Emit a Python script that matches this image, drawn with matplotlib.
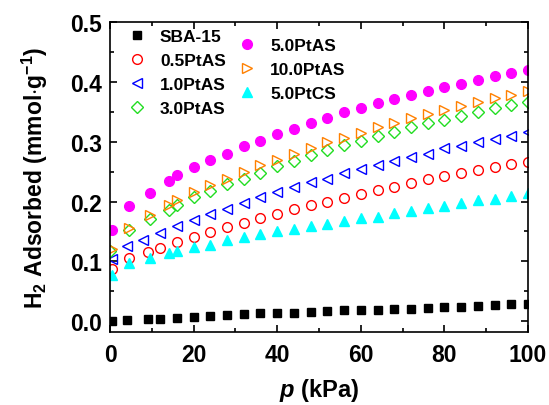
import matplotlib
matplotlib.use("Agg")
import matplotlib.pyplot as plt
from matplotlib.ticker import MultipleLocator

plt.rcParams['font.family'] = ['Liberation Sans', 'DejaVu Sans']
plt.rcParams['font.weight'] = 'bold'
plt.rcParams['mathtext.fontset'] = 'custom'
plt.rcParams['mathtext.rm'] = 'Liberation Sans:bold'
plt.rcParams['mathtext.it'] = 'Liberation Sans:italic:bold'
plt.rcParams['mathtext.bf'] = 'Liberation Sans:bold'

# pressure (kPa) for each series
p_sba = [0.5, 4, 9, 12, 16, 20, 24, 28, 32, 36, 40, 44, 48, 52, 56, 60, 64, 68, 72, 76, 80, 84, 88, 92, 96, 100]
p_05 = [0.5, 4.5, 9, 12, 16, 20, 24, 28, 32, 36, 40, 44, 48, 52, 56, 60, 64, 68, 72, 76, 80, 84, 88, 92, 96, 100]
p_10 = [0.5, 4, 8, 12, 16, 20, 24, 28, 32, 36, 40, 44, 48, 52, 56, 60, 64, 68, 72, 76, 80, 84, 88, 92, 96, 100]
p_30 = [0, 4.5, 9.5, 14, 16, 20, 24, 28, 32, 36, 40, 44, 48, 52, 56, 60, 64, 68, 72, 76, 80, 84, 88, 92, 96, 100]
p_50 = [0.5, 4.5, 9.5, 14, 16, 20, 24, 28, 32, 36, 40, 44, 48, 52, 56, 60, 64, 68, 72, 76, 80, 84, 88, 92, 96, 100]
p_100 = [0.5, 4.5, 9.5, 14, 16, 20, 24, 28, 32, 36, 40, 44, 48, 52, 56, 60, 64, 68, 72, 76, 80, 84, 88, 92, 96, 100]
p_cs = [0.5, 4.5, 9.5, 14, 16, 20, 24, 28, 32, 36, 40, 44, 48, 52, 56, 60, 64, 68, 72, 76, 80, 84, 88, 92, 96, 100]

# H2 adsorbed (mmol/g)
h_sba = [0.001, 0.002, 0.003, 0.0045, 0.0055, 0.007, 0.009, 0.0105, 0.012, 0.013, 0.013, 0.0145, 0.016,
         0.017, 0.018, 0.019, 0.0195, 0.020, 0.021, 0.022, 0.023, 0.0245, 0.0255, 0.027, 0.028, 0.029]
h_05 = [0.088, 0.105, 0.115, 0.123, 0.132, 0.140, 0.149, 0.157, 0.164, 0.172, 0.180, 0.187, 0.194,
        0.200, 0.206, 0.213, 0.219, 0.225, 0.231, 0.237, 0.242, 0.247, 0.253, 0.257, 0.262, 0.266]
h_10 = [0.104, 0.125, 0.136, 0.148, 0.159, 0.169, 0.179, 0.188, 0.198, 0.207, 0.216, 0.224, 0.232,
        0.238, 0.247, 0.254, 0.261, 0.268, 0.274, 0.280, 0.290, 0.293, 0.299, 0.304, 0.310, 0.316]
h_30 = [0.118, 0.152, 0.170, 0.186, 0.194, 0.208, 0.217, 0.229, 0.238, 0.248, 0.260, 0.268, 0.278,
        0.286, 0.294, 0.302, 0.310, 0.317, 0.324, 0.331, 0.337, 0.343, 0.350, 0.356, 0.361, 0.366]
h_50 = [0.153, 0.192, 0.215, 0.235, 0.244, 0.258, 0.269, 0.280, 0.292, 0.302, 0.313, 0.322, 0.331,
        0.340, 0.349, 0.356, 0.364, 0.371, 0.378, 0.385, 0.391, 0.397, 0.403, 0.409, 0.415, 0.420]
h_100 = [0.121, 0.156, 0.177, 0.195, 0.202, 0.216, 0.227, 0.238, 0.250, 0.261, 0.270, 0.280, 0.290,
         0.299, 0.307, 0.315, 0.324, 0.331, 0.339, 0.346, 0.353, 0.360, 0.367, 0.373, 0.378, 0.385]
h_cs = [0.077, 0.097, 0.106, 0.114, 0.118, 0.124, 0.128, 0.135, 0.141, 0.145, 0.151, 0.154, 0.159,
        0.163, 0.168, 0.172, 0.175, 0.181, 0.184, 0.189, 0.193, 0.197, 0.202, 0.205, 0.210, 0.214]

fig = plt.figure(figsize=(5.49, 4.06), dpi=100)
ax = fig.add_axes([0.2004, 0.1798, 0.7613, 0.7635])

ms = 7
h1 = ax.plot(p_sba, h_sba, 's', color='black', ms=5.5, label='SBA-15')[0]
h2 = ax.plot(p_05, h_05, 'o', mfc='none', mec='#ff0000', mew=1, ms=ms, label='0.5PtAS')[0]
h3 = ax.plot(p_10, h_10, '<', mfc='none', mec='#0000ff', mew=1, ms=ms, label='1.0PtAS')[0]
h4 = ax.plot(p_30, h_30, 'D', mfc='none', mec='#22dd22', mew=1, ms=6, label='3.0PtAS')[0]
h5 = ax.plot(p_50, h_50, 'o', color='#ff00ff', ms=ms, label='5.0PtAS')[0]
h6 = ax.plot(p_100, h_100, '>', mfc='none', mec='#ff8000', mew=1, ms=ms, label='10.0PtAS')[0]
h7 = ax.plot(p_cs, h_cs, '^', color='#00ffff', ms=ms, label='5.0PtCS')[0]

ax.set_xlim(0, 100)
ax.set_ylim(-0.018, 0.5)
ax.xaxis.set_major_locator(MultipleLocator(20))
ax.xaxis.set_minor_locator(MultipleLocator(10))
ax.yaxis.set_minor_locator(MultipleLocator(0.05))
ax.set_yticks([0.0, 0.1, 0.2, 0.3, 0.4, 0.5])
ax.set_yticklabels(['0.0', '0.1', '0.2', '0.3', '0.4', '0.5'])
ax.tick_params(which='both', direction='in', top=True, right=True, width=1.2)
ax.tick_params(which='major', length=5, labelsize=16.5)
ax.tick_params(axis='x', which='major', pad=8)
ax.tick_params(axis='y', which='major', pad=6)
ax.tick_params(which='minor', length=3)
for s in ax.spines.values():
    s.set_linewidth(1.2)

ax.set_xlabel(r'$\mathit{p}$ (kPa)', fontsize=17, fontweight='bold', labelpad=7)
ax.set_ylabel(r'H$_2$ Adsorbed (mmol$\cdot$g$^{-1}$)', fontsize=16.5, fontweight='bold', labelpad=14)

leg_kw = dict(frameon=False, fontsize=12.5, handlelength=1.0, handletextpad=0.82,
              labelspacing=0.52, borderaxespad=0, borderpad=0)
leg1 = ax.legend(handles=[h1, h2, h3, h4], loc='upper left', bbox_to_anchor=(0.044, 0.979), **leg_kw)
ax.add_artist(leg1)
ax.legend(handles=[h5, h6, h7], loc='upper left', bbox_to_anchor=(0.307, 0.95), **leg_kw)

fig.savefig('out.png', dpi=100)
